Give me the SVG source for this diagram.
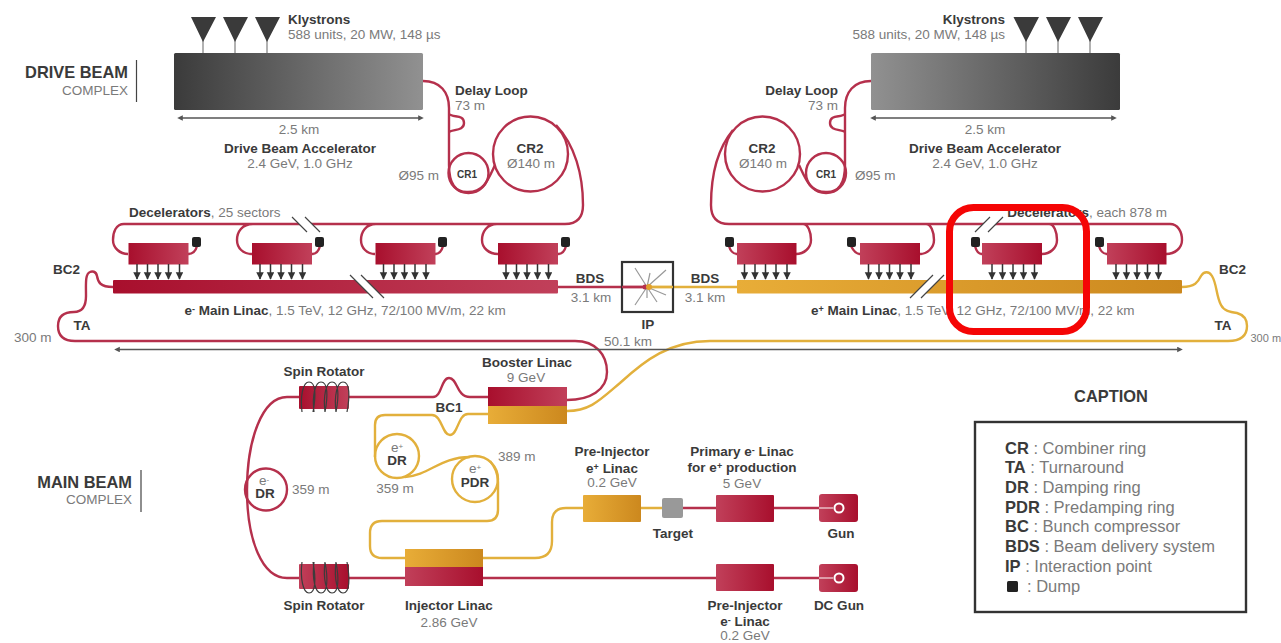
<svg xmlns="http://www.w3.org/2000/svg" width="1281" height="643" viewBox="0 0 1281 643">
<style>
text{font-family:"Liberation Sans",Arial,sans-serif;font-size:13.5px;fill:#7a7a7a}
.b{font-weight:700;fill:#3a3a3a}
.m{text-anchor:middle}
.e{text-anchor:end}
.c{font-size:16.5px}
.h{font-size:16.4px}
.r{fill:none;stroke:#b5304c;stroke-width:2.4}
.y{fill:none;stroke:#e2b03c;stroke-width:2.4}
.g{fill:none;stroke:#555;stroke-width:1.4}
.ar{stroke:#333;stroke-width:1.5;marker-end:url(#ah)}
.dump{fill:#222}
.ray{stroke:#999;stroke-width:1.2}
.coil{fill:none;stroke:#3c3c3c;stroke-width:1.2}
.slash{stroke:#444;stroke-width:1.2}
.gap{fill:#fff;stroke:none}
</style>
<defs>
<marker id="ah" markerWidth="6" markerHeight="6" refX="4.5" refY="2.5" orient="auto"><path d="M0 0L5 2.5L0 5z" fill="#333"/></marker>
<marker id="dl" markerWidth="5" markerHeight="5" refX="2" refY="2" orient="auto-start-reverse"><path d="M0 0L4 2L0 4z" fill="#555"/></marker>
<linearGradient id="kL"><stop offset="0" stop-color="#3b3b3b"/><stop offset="1" stop-color="#919191"/></linearGradient>
<linearGradient id="kR"><stop offset="0" stop-color="#919191"/><stop offset="1" stop-color="#3b3b3b"/></linearGradient>
<linearGradient id="rL"><stop offset="0" stop-color="#a80f2d"/><stop offset="1" stop-color="#c1405a"/></linearGradient>
<linearGradient id="rR"><stop offset="0" stop-color="#c1405a"/><stop offset="1" stop-color="#a80f2d"/></linearGradient>
<linearGradient id="yL"><stop offset="0" stop-color="#e8ad38"/><stop offset="1" stop-color="#cc881e"/></linearGradient>
<g id="arw">
<path class="ar" d="M0 264V279"/><path class="ar" d="M10.500 264V279"/><path class="ar" d="M21 264V279"/><path class="ar" d="M31.500 264V279"/><path class="ar" d="M42.500 264V279"/>
</g>
</defs>

<g id="connectors">
<path class="r" d="M423 81C440 81 449 92 449 108V165Q449 193 468 192C484 192 488 180 495 165M449 114C453 118 464 114 464 123C464 131 453 129 449 132"/>
<circle class="r" cx="468.500" cy="173" r="20"/>
<circle class="r" cx="530.500" cy="154" r="37.500"/>
<path class="r" d="M556 125C575 145 583 175 583 205Q583 224 565 224H124C116 224 113 232 113 240C113 248 120 254 128 254M253 224C242 224 237 232 237 240C237 248 243 254 252 254M376 224C366 224 361 232 361 240C361 248 367 254 375 254M497 224C487 224 482 232 482 240C482 248 489 254 498 254"/>
<path class="r" d="M188 254C193 254 196 250 197 246M312 254C317 254 319 250 320 246M435 254C440 254 442 250 443 246M558 254C563 254 565 250 566 246"/>
<path class="r" d="M871 81C854 81 845 92 845 108V165Q845 193 826 192C810 192 806 180 799 165M845 114C841 118 830 114 830 123C830 131 841 129 845 132"/>
<circle class="r" cx="826" cy="173" r="20"/>
<circle class="r" cx="762.500" cy="154" r="37.500"/>
<path class="r" d="M733 130C718 148 711 175 711 205Q711 224 729 224H1170C1178 224 1182 232 1182 240C1182 248 1175 254 1166 254M1049 224C1054 224 1057 232 1057 240C1057 248 1050 254 1042 254M926 224C931 224 934 232 934 240C934 248 927 254 920 254M803 224C808 224 811 232 811 240C811 248 804 254 796 254"/>
<path class="r" d="M737 254C733 254 730 250 729 246M860 254C856 254 853 250 851 246M982 254C978 254 976 250 975 246M1107 254C1103 254 1100 250 1099 246"/>
<path class="r" d="M558 287H647"/>
<path class="y" d="M647 287H737"/>
<path class="r" d="M113 287C100 287 98 282 97 276C96 271 92 271 90 272C85 274 86 284 86 296C86 306 82 312 74 312C62 312 58 318 58 326C58 336 64 341 75 341H575C596 341 607 355 607 372C607 390 590 400 567 400"/>
<path class="y" d="M1182 287C1195 287 1198 282 1201 276C1204 271 1209 271 1212 276C1217 284 1216 296 1221 305C1224 311 1230 312 1237 313C1244 315 1247 320 1247 326C1247 336 1240 341 1228 341H710C670 341 645 360 620 383C600 400 590 411 567 411"/>
<path class="g" d="M117 349.500H1180" marker-start="url(#dl)" marker-end="url(#dl)"/>
<path class="g" d="M180 118H421" marker-start="url(#dl)" marker-end="url(#dl)"/>
<path class="g" d="M873 118H1114" marker-start="url(#dl)" marker-end="url(#dl)"/>
<path class="r" d="M349 397H433C442 397 441 378 449 378C458 378 456 397 470 397H488M299 397H287C262 397 247 440 247 490C247 540 262 578 287 578H299M349 578H405M483 578H716M774 578H835"/>
<path class="r" d="M683 508H716M774 508H835"/>
<path class="y" d="M641 508H662M488 414H468C458 414 458 435 450 435C442 435 442 415 432 415H385Q375 415 375 425V457"/>
<circle class="y" cx="397" cy="456" r="22"/>
<path class="y" d="M405 477C430 475 440 457 470 457"/>
<circle class="y" cx="475" cy="479" r="23"/>
<path class="y" d="M490 461C496 468 498 474 498 482V510Q498 521 487 521H382Q370 521 370 533V546Q370 558 382 558H405M483 558H535Q552 558 552 541V522Q552 508 566 508H583"/>
<circle class="r" cx="266" cy="489.500" r="21"/>
</g>

<g id="klystrons-left" fill="#3a3a3a" stroke="#999" stroke-width="1.5">
<path d="M203 40V53M235 40V53M267 40V53"/>
<path stroke="none" d="M191 17H216L203 42zM223 17H248L235 42zM255 17H280L267 42z"/>
</g>
<g id="klystrons-right" fill="#3a3a3a" stroke="#999" stroke-width="1.5">
<path d="M1026 40V53M1058 40V53M1090 40V53"/>
<path stroke="none" d="M1013.500 17H1039L1026 42zM1046 17H1071L1058 42zM1078 17H1103L1090 42z"/>
</g>
<g id="drive-left"><rect x="174" y="53" width="249" height="57" rx="1.500" fill="url(#kL)"/></g>
<g id="drive-right"><rect x="871" y="53" width="249" height="57" rx="1.500" fill="url(#kR)"/></g>

<g id="linac-minus">
<rect x="113" y="280" width="445" height="13.500" rx="1" fill="url(#rL)"/>
<path class="gap" d="M350 275H361L384 298H373z"/>
<path class="slash" d="M350 275L373 298M361 275L384 298"/>
</g>
<g id="linac-plus">
<rect x="737" y="280" width="445" height="13.500" rx="1" fill="url(#yL)"/>
<path class="gap" d="M910 298H921L944 275H933z"/>
<path class="slash" d="M910 298L933 275M921 298L944 275"/>
</g>
<g id="slashes">
<path class="gap" d="M292 217H305L320 232H307z"/>
<path class="slash" d="M292 217L307 232M305 217L320 232"/>
<path class="gap" d="M975 232H988L1003 217H990z"/>
<path class="slash" d="M975 232L990 217M988 232L1003 217"/>
</g>

<g id="dec-l1"><rect x="128.500" y="243" width="60" height="21.500" fill="url(#rL)"/><rect class="dump" x="192" y="237" width="9" height="10" rx="2"/><use href="#arw" x="137"/></g>
<g id="dec-l2"><rect x="252" y="243" width="60" height="21.500" fill="url(#rL)"/><rect class="dump" x="315" y="237" width="9" height="10" rx="2"/><use href="#arw" x="260"/></g>
<g id="dec-l3"><rect x="375.500" y="243" width="60" height="21.500" fill="url(#rL)"/><rect class="dump" x="438" y="237" width="9" height="10" rx="2"/><use href="#arw" x="383.500"/></g>
<g id="dec-l4"><rect x="498" y="243" width="60" height="21.500" fill="url(#rL)"/><rect class="dump" x="561" y="237" width="9" height="10" rx="2"/><use href="#arw" x="506"/></g>
<g id="dec-r1"><rect x="737" y="243" width="59.500" height="21.500" fill="url(#rR)"/><rect class="dump" x="725" y="237" width="9" height="10" rx="2"/><use href="#arw" x="744.500"/></g>
<g id="dec-r2"><rect x="860" y="243" width="60" height="21.500" fill="url(#rR)"/><rect class="dump" x="847" y="237" width="9" height="10" rx="2"/><use href="#arw" x="868.500"/></g>
<g id="dec-r3"><rect x="982" y="243" width="60" height="21.500" fill="url(#rR)"/><rect class="dump" x="971" y="237" width="9" height="10" rx="2"/><use href="#arw" x="992"/></g>
<g id="dec-r4"><rect x="1107" y="243" width="59.500" height="21.500" fill="url(#rR)"/><rect class="dump" x="1095" y="237" width="9" height="10" rx="2"/><use href="#arw" x="1116"/></g>

<g id="ip">
<rect x="622" y="262" width="51" height="50" fill="none" stroke="#333" stroke-width="2.200"/>
<path class="ray" d="M647 287L635 268M647 287L666 270M647 287L650 273M647 287L635 305M647 287L647 298M647 287L657 302M647 287L666 295"/>
<path class="r" d="M622 287H645"/><path class="y" d="M649 287H673"/>
<circle cx="645" cy="287" r="2.500" fill="#b5304c"/><circle cx="649" cy="287" r="3" fill="#e2a02c"/>
</g>

<g id="spin-top">
<rect x="299" y="386" width="50" height="23" rx="1" fill="url(#rL)"/>
<path class="coil" d="M302 412C300 396 303 382 309 382C316 382 316 396 313 412M314 412C312 396 315 382 321 382C328 382 328 396 325 412M325 412C323 396 326 382 332 382C339 382 339 396 336 412M336 412C334 396 337 382 343 382C350 382 350 396 347 412"/>
</g>
<g id="spin-bottom">
<rect x="299" y="564" width="50" height="25" rx="1" fill="url(#rR)"/>
<path class="coil" d="M302 562C300 578 303 593 309 593C316 593 316 578 313 562M314 562C312 578 315 593 321 593C328 593 328 578 325 562M325 562C323 578 326 593 332 593C339 593 339 578 336 562M336 562C334 578 337 593 343 593C350 593 350 578 347 562"/>
</g>
<g id="booster"><rect x="488" y="387" width="79" height="19" fill="url(#rL)"/><rect x="488" y="406" width="79" height="18" fill="url(#yL)"/></g>
<g id="injector"><rect x="405" y="549" width="78" height="19" fill="url(#yL)"/><rect x="405" y="567" width="78" height="19" fill="url(#rR)"/></g>
<g id="pre-plus"><rect x="583" y="495" width="58" height="27" rx="1" fill="url(#yL)"/></g>
<g id="target"><rect x="662" y="498" width="21" height="20" rx="2" fill="#999"/></g>
<g id="primary"><rect x="716" y="495" width="58" height="27" rx="1" fill="url(#rR)"/></g>
<g id="gun"><rect x="819" y="494" width="39" height="28" rx="3" fill="url(#rR)"/><path d="M819 508H833" stroke="#fff" stroke-width="1"/><circle cx="839" cy="508" r="4.500" fill="none" stroke="#fff" stroke-width="2"/></g>
<g id="pre-minus"><rect x="716" y="564" width="58" height="27" rx="1" fill="url(#rR)"/></g>
<g id="dcgun"><rect x="819" y="564" width="39" height="28" rx="3" fill="url(#rR)"/><path d="M819 578H833" stroke="#fff" stroke-width="1"/><circle cx="839" cy="578" r="4.500" fill="none" stroke="#fff" stroke-width="2"/></g>

<g id="labels">
<text class="b" x="288" y="24">Klystrons</text>
<text x="288" y="39">588 units, 20 MW, 148 µs</text>
<text class="b e" x="1005" y="24">Klystrons</text>
<text class="e" x="1005" y="39">588 units, 20 MW, 148 µs</text>
<text class="b e h" x="128" y="78">DRIVE BEAM</text>
<text class="e" x="128" y="95">COMPLEX</text>
<path d="M136.500 60V102M141 470V512" stroke="#444" stroke-width="1.200"/>
<text class="b e h" x="132" y="488">MAIN BEAM</text>
<text class="e" x="132" y="504">COMPLEX</text>
<text class="m" x="299" y="134">2.5 km</text>
<text class="b m" x="300" y="153">Drive Beam Accelerator</text>
<text class="m" x="300" y="168">2.4 GeV, 1.0 GHz</text>
<text class="m" x="985" y="134">2.5 km</text>
<text class="b m" x="985" y="153">Drive Beam Accelerator</text>
<text class="m" x="985" y="168">2.4 GeV, 1.0 GHz</text>
<text class="b" x="455" y="95">Delay Loop</text>
<text x="455" y="110">73 m</text>
<text class="b e" x="838" y="95">Delay Loop</text>
<text class="e" x="838" y="110">73 m</text>
<text class="e" x="439" y="180">Ø95 m</text>
<text x="855" y="180">Ø95 m</text>
<text class="b m" x="467" y="178" style="font-size:10px">CR1</text>
<text class="b m" x="826" y="178" style="font-size:10px">CR1</text>
<text class="b m" x="530" y="153">CR2</text>
<text class="m" x="531" y="168">Ø140 m</text>
<text class="b m" x="762" y="153">CR2</text>
<text class="m" x="763" y="168">Ø140 m</text>
<text x="129" y="217"><tspan class="b">Decelerators</tspan>, 25 sectors</text>
<text class="e" x="1167" y="217"><tspan class="b">Decelerators</tspan>, each 878 m</text>
<text class="b" x="53" y="274">BC2</text>
<text class="b" x="1219" y="274">BC2</text>
<text class="b m" x="82" y="330">TA</text>
<text class="b m" x="1223" y="330">TA</text>
<text x="14" y="342">300 m</text>
<text x="1250.500" y="342" style="font-size:11px">300 m</text>
<text x="184.500" y="315"><tspan class="b">e</tspan><tspan class="b" dy="-3" style="font-size:9px">-</tspan><tspan class="b" dy="3"> Main Linac</tspan>, 1.5 TeV, 12 GHz, 72/100 MV/m, 22 km</text>
<text x="811" y="315"><tspan class="b">e</tspan><tspan class="b" dy="-3" style="font-size:9px">+</tspan><tspan class="b" dy="3"> Main Linac</tspan>, 1.5 TeV, 12 GHz, 72/100 MV/m, 22 km</text>
<text class="b m" x="590" y="283">BDS</text>
<text class="m" x="591" y="302">3.1 km</text>
<text class="b m" x="705" y="283">BDS</text>
<text class="m" x="705" y="302">3.1 km</text>
<text class="b m" x="648" y="329">IP</text>
<text class="m" x="628" y="346">50.1 km</text>
<text class="b m" x="324" y="376">Spin Rotator</text>
<text class="b m" x="324" y="610">Spin Rotator</text>
<text class="b m" x="527" y="367">Booster Linac</text>
<text class="m" x="526" y="381.500">9 GeV</text>
<text class="b m" x="449" y="411.500">BC1</text>
<text class="m" x="397" y="452">e<tspan dy="-3" style="font-size:8px">+</tspan></text>
<text class="b m" x="397" y="465">DR</text>
<text class="m" x="475" y="473">e<tspan dy="-3" style="font-size:8px">+</tspan></text>
<text class="b m" x="475" y="487">PDR</text>
<text class="m" x="264" y="485">e<tspan dy="-3" style="font-size:8px">-</tspan></text>
<text class="b m" x="265" y="498">DR</text>
<text x="292" y="494">359 m</text>
<text class="m" x="395" y="493">359 m</text>
<text x="498" y="461">389 m</text>
<text class="b m" x="449" y="610">Injector Linac</text>
<text class="m" x="449" y="627">2.86 GeV</text>
<text class="b m" x="612" y="456">Pre-Injector</text>
<text class="b m" x="612" y="473">e<tspan dy="-3" style="font-size:9px">+</tspan><tspan dy="3"> Linac</tspan></text>
<text class="m" x="612" y="487">0.2 GeV</text>
<text class="b m" x="742" y="456">Primary e<tspan dy="-3" style="font-size:9px">-</tspan><tspan dy="3"> Linac</tspan></text>
<text class="b m" x="742" y="472">for e<tspan dy="-3" style="font-size:9px">+</tspan><tspan dy="3"> production</tspan></text>
<text class="m" x="742" y="488">5 GeV</text>
<text class="b m" x="673" y="538">Target</text>
<text class="b m" x="841" y="538">Gun</text>
<text class="b m" x="745" y="610">Pre-Injector</text>
<text class="b m" x="745" y="626">e<tspan dy="-3" style="font-size:9px">-</tspan><tspan dy="3"> Linac</tspan></text>
<text class="m" x="745" y="640">0.2 GeV</text>
<text class="b m" x="839" y="610">DC Gun</text>
</g>

<g id="caption">
<text class="b m h" x="1111" y="402">CAPTION</text>
<rect x="975" y="422" width="271" height="190" fill="none" stroke="#333" stroke-width="2.400"/>
<text class="c" x="1005" y="454"><tspan class="b">CR</tspan> : Combiner ring</text>
<text class="c" x="1005" y="473"><tspan class="b">TA</tspan> : Turnaround</text>
<text class="c" x="1005" y="493"><tspan class="b">DR</tspan> : Damping ring</text>
<text class="c" x="1005" y="513"><tspan class="b">PDR</tspan> : Predamping ring</text>
<text class="c" x="1005" y="532"><tspan class="b">BC</tspan> : Bunch compressor</text>
<text class="c" x="1005" y="552"><tspan class="b">BDS</tspan> : Beam delivery system</text>
<text class="c" x="1005" y="572"><tspan class="b">IP</tspan> : Interaction point</text>
<rect class="dump" x="1007" y="581" width="11" height="11" rx="1.500"/>
<text class="c" x="1027" y="592">: Dump</text>
</g>

<rect id="highlight" x="949.500" y="207.500" width="137" height="124" rx="24" fill="none" stroke="#f50505" stroke-width="7"/>
</svg>
